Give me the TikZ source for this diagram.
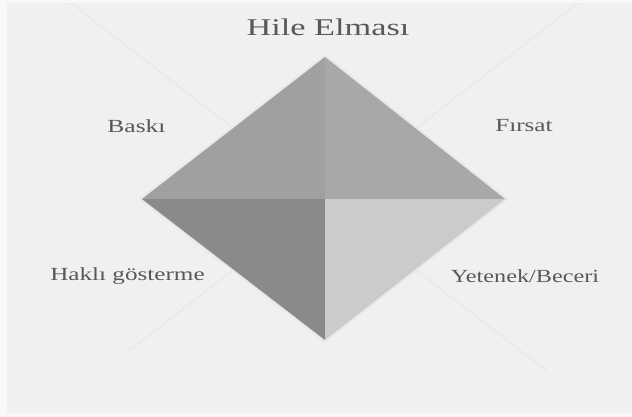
\documentclass[tikz,border=0pt]{standalone}
\usepackage{fontspec}
\setmainfont{Liberation Serif}
\usetikzlibrary{backgrounds}
\definecolor{paper}{RGB}{240,240,240}
\definecolor{paperedge}{RGB}{248,248,248}
\definecolor{xgray}{RGB}{228,228,228}
\definecolor{halogray}{RGB}{232,232,232}
\definecolor{tlgray}{RGB}{160,160,160}
\definecolor{trgray}{RGB}{168,168,168}
\definecolor{blgray}{RGB}{138,138,138}
\definecolor{brgray}{RGB}{203,203,203}
\definecolor{txtgray}{RGB}{88,88,88}
\tikzset{
  xline/.style={line width=0.7pt,draw=xgray},
  halo/.style={draw=halogray,line width=4pt,line join=miter},
  quad/.style={draw=none},
  lbl/.style={text=txtgray,font=\fontsize{18.5}{20}\selectfont,anchor=base,
    inner sep=0pt},
  ttl/.style={text=txtgray,font=\fontsize{24}{26}\selectfont,anchor=base,
    inner sep=0pt},
}

\begin{document}
\begin{tikzpicture}[x=1pt,y=-1pt]
  \useasboundingbox (0,0) rectangle (632,417);
  \fill[paperedge] (0,0) rectangle (632,417);
  \fill[paper] (7,3) rectangle (632,413);
  % diamond corners
  \coordinate (c) at (325,199);
  \coordinate (top) at (325,57);
  \coordinate (lft) at (142,199);
  \coordinate (rgt) at (505,199);
  \coordinate (bot) at (325,340);
  % faint cross behind
  \coordinate (xa) at (71,3);
  \coordinate (xb) at (547,371);
  \coordinate (xc) at (578,3);
  \coordinate (xd) at (130,350);
  \draw[xline] (xa) -- (xb) (xc) -- (xd);
  \draw[halo] (top) -- (rgt) -- (bot) -- (lft) -- cycle;
  \fill[tlgray] (c) -- (lft) -- (top) -- cycle;
  \fill[trgray] (c) -- (top) -- (rgt) -- cycle;
  \fill[blgray] (c) -- (lft) -- (bot) -- cycle;
  \fill[brgray] (c) -- (bot) -- (rgt) -- cycle;
  % labels
  \node[ttl] (title) at (328,36) {\scalebox{1.43}[1]{Hile Elması}};
  \node[lbl] (baski) at (136.5,133) {\scalebox{1.38}[1]{Baskı}};
  \node[lbl] (firsat) at (524,132) {\scalebox{1.36}[1]{Fırsat}};
  \node[lbl] (hakli) at (127.5,280) {\scalebox{1.36}[1]{Haklı gösterme}};
  \node[lbl] (yetenek) at (525,282) {\scalebox{1.31}[1]{Yetenek/Beceri}};
\end{tikzpicture}
\end{document}
